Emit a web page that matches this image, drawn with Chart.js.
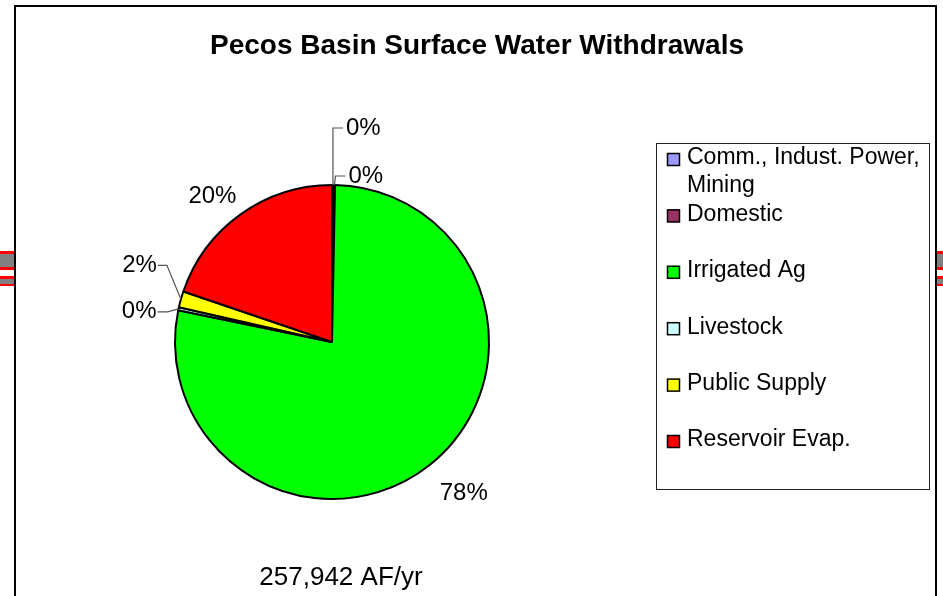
<!DOCTYPE html>
<html>
<head>
<meta charset="utf-8">
<title>Pecos Basin Surface Water Withdrawals</title>
<script src="https://cdn.jsdelivr.net/npm/chart.js@4.4.1/dist/chart.umd.min.js"></script>
<style>
  html, body { margin: 0; padding: 0; background: #fff; }
  canvas { display: block; }
</style>
</head>
<body>
<canvas id="pieChart" width="943" height="596"></canvas>
<script>
// values (AF/yr)
const categories = ['Comm., Indust. Power, Mining', 'Domestic', 'Irrigated Ag', 'Livestock', 'Public Supply', 'Reservoir Evap.'];
const withdrawals = [500, 300, 201000, 800, 4300, 51042];
const sliceColors = ['#9999FF', '#993366', '#00FF00', '#CCFFFF', '#FFFF00', '#FF0000'];
const chartTitle = 'Pecos Basin Surface Water Withdrawals';
const units = 'AF/yr';

const FONT = '"Liberation Sans", Arial, sans-serif';

// leader lines for the small slices: elbow offset from the slice edge, then a short run
const leaders = {
    0: { dx: 0, dy: -57, run: 10 },
    1: { dx: 1, dy: -9, run: 10 },
    3: { dx: -11, dy: 3, run: -10 },
    4: { dx: -14, dy: -34, run: -9 }
};
// small nudges for the big-slice labels
const nudges = { 2: [10, -1], 5: [-6, 13] };

const frame = {
    id: 'frame',
    beforeDraw(chart) {
        const c = chart.ctx;
        c.save();
        c.fillStyle = '#fff';
        c.fillRect(0, 0, chart.width, chart.height);
        // bits of the page behind the chart, left and right
        [[0, 14], [937, 6]].forEach(([x, w]) => {
            c.fillStyle = '#ff0000';
            c.fillRect(x, 251, w, 19);
            c.fillRect(x, 276, w, 10);
            c.fillStyle = '#808080';
            c.fillRect(x, 254, w, 13);
            c.fillRect(x, 279, w, 5);
        });
        c.fillStyle = '#000';
        c.fillRect(14, 5, 923, 2);
        c.fillRect(14, 5, 2, chart.height);
        c.fillRect(935, 5, 2, chart.height);

        c.fillStyle = '#000';
        c.font = 'bold 28px ' + FONT;
        c.textAlign = 'center';
        c.textBaseline = 'alphabetic';
        c.fillText(chartTitle, 477, 54);
        c.restore();
    },
    afterDraw(chart) {
        const c = chart.ctx;
        const arcs = chart.getDatasetMeta(0).data;
        const values = chart.data.datasets[0].data;
        const total = values.reduce((a, b) => a + b, 0);
        c.save();

        // percentage labels
        c.font = '24px ' + FONT;
        c.textBaseline = 'middle';
        arcs.forEach((arc, i) => {
            const p = arc.getProps(['x', 'y', 'startAngle', 'endAngle', 'outerRadius'], true);
            const mid = (p.startAngle + p.endAngle) / 2;
            const txt = Math.round(values[i] / total * 100) + '%';
            const L = leaders[i];
            c.fillStyle = '#000';
            if (L) {
                const ex = p.x + Math.cos(mid) * p.outerRadius;
                const ey = p.y + Math.sin(mid) * p.outerRadius;
                const bx = ex + L.dx, by = ey + L.dy;
                const tx = bx + L.run;
                c.strokeStyle = '#555';
                c.lineWidth = 1.2;
                c.beginPath();
                c.moveTo(ex, ey);
                c.lineTo(bx, by);
                c.lineTo(tx, by);
                c.stroke();
                c.textAlign = L.run > 0 ? 'left' : 'right';
                c.fillText(txt, tx + (L.run > 0 ? 3 : -1), by);
            } else {
                const r = p.outerRadius + 38;
                const n = nudges[i] || [0, 0];
                c.textAlign = 'center';
                c.fillText(txt, p.x + Math.cos(mid) * r + n[0], p.y + Math.sin(mid) * r + n[1]);
            }
        });

        // total under the pie
        c.textAlign = 'center';
        c.font = '26px ' + FONT;
        c.fillText(total.toLocaleString('en-US') + ' ' + units, 341, 578);

        // legend box
        c.strokeStyle = '#222';
        c.lineWidth = 1;
        c.strokeRect(656.5, 143.5, 273, 346);
        c.font = '23px ' + FONT;
        c.textAlign = 'left';
        chart.data.labels.forEach((label, i) => {
            const y = 158 + i * 56.4;
            c.fillStyle = sliceColors[i];
            c.fillRect(667, y - 5, 13, 13);
            c.strokeStyle = '#000';
            c.lineWidth = 1.5;
            c.strokeRect(667.5, y - 4.5, 12, 12);
            // wrap long labels
            const words = label.split(' ');
            let line = '', ly = y;
            c.fillStyle = '#000';
            words.forEach(w => {
                const test = line ? line + ' ' + w : w;
                if (c.measureText(test).width > 240 && line) {
                    c.fillText(line, 687, ly);
                    line = w;
                    ly += 28;
                } else {
                    line = test;
                }
            });
            c.fillText(line, 687, ly);
        });
        c.restore();
    }
};

new Chart(document.getElementById('pieChart').getContext('2d'), {
    type: 'pie',
    data: {
        labels: categories,
        datasets: [{
            data: withdrawals,
            backgroundColor: sliceColors,
            borderColor: '#000',
            borderWidth: 2
        }]
    },
    options: {
        responsive: false,
        animation: false,
        layout: { padding: { left: 174, top: 184, right: 453, bottom: 96 } },
        plugins: {
            legend: { display: false },
            tooltip: { enabled: false }
        }
    },
    plugins: [frame]
});
</script>
</body>
</html>
